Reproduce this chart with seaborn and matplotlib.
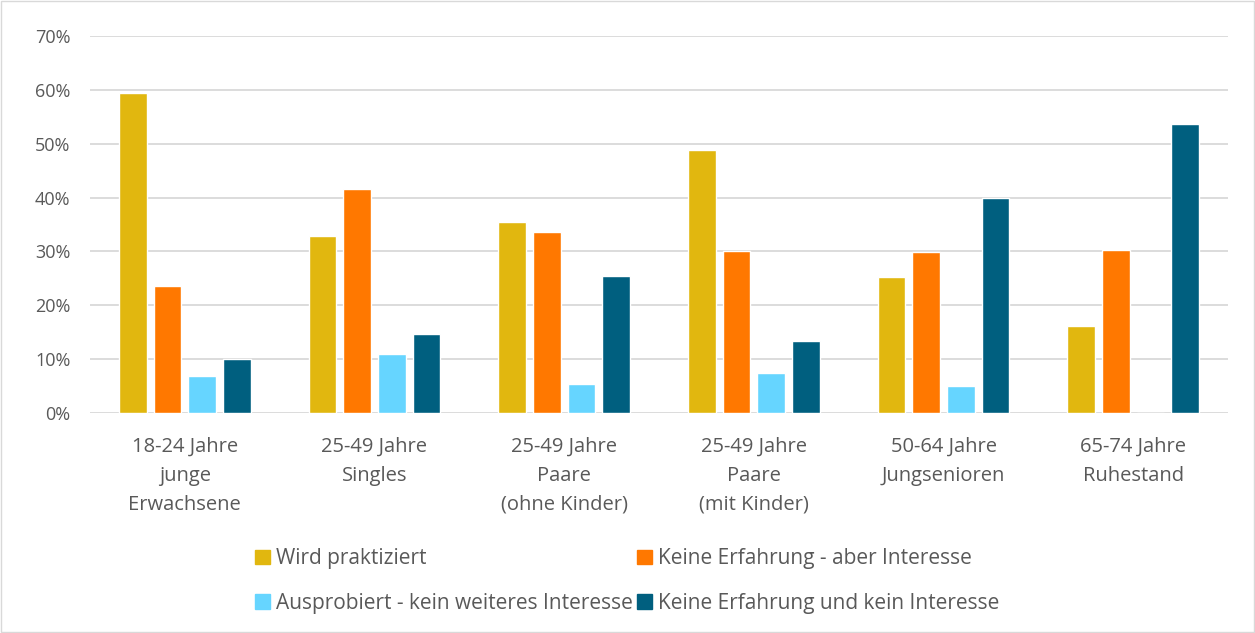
import pandas as pd
import numpy as np
import matplotlib.pyplot as plt
import matplotlib.patches as mpatches
import seaborn as sns

# Werte (Anteil in %)
groups = ["18-24 Jahre\njunge\nErwachsene", "25-49 Jahre\nSingles", "25-49 Jahre\nPaare\n(ohne Kinder)",
          "25-49 Jahre\nPaare\n(mit Kinder)", "50-64 Jahre\nJungsenioren", "65-74 Jahre\nRuhestand"]
series = ["Wird praktiziert", "Keine Erfahrung - aber Interesse",
          "Ausprobiert - kein weiteres Interesse", "Keine Erfahrung und kein Interesse"]
praktiziert = [59.5, 32.8, 35.4, 48.9, 25.2, 16.1]
aber_interesse = [23.5, 41.6, 33.6, 30.0, 29.8, 30.2]
ausprobiert = [6.8, 10.9, 5.3, 7.5, 5.0, 0.0]
kein_interesse = [10.1, 14.6, 25.5, 13.3, 40.0, 53.7]
colors = ["#E1B70F", "#FF7800", "#66D5FF", "#005F7F"]

df = pd.DataFrame({"Gruppe": groups * 4,
                   "Antwort": [s for s in series for _ in groups],
                   "Wert": praktiziert + aber_interesse + ausprobiert + kein_interesse})

sns.set_style("white")
plt.rcParams["font.family"] = ["Open Sans", "DejaVu Sans"]
text_col = "#595959"

fig = plt.figure(figsize=(12.55, 6.33), dpi=100)
ax = fig.add_axes([0.0717, 0.3476, 0.9068, 0.5955])

sns.barplot(data=df, x="Gruppe", y="Wert", hue="Antwort", palette=colors,
            width=0.73, gap=0.2, ax=ax, legend=False, saturation=1)

ax.set_ylim(0, 70)
ax.set_yticks(range(0, 71, 10))
ax.set_yticklabels([f"{v}%" for v in range(0, 71, 10)])
ax.yaxis.grid(True, color="#D9D9D9", linewidth=1.3)
ax.set_axisbelow(True)
for s in ax.spines.values():
    s.set_visible(False)
ax.set_xlabel("")
ax.set_ylabel("")
ax.tick_params(axis="y", length=0, pad=14, labelsize=13, labelcolor=text_col)
ax.tick_params(axis="x", length=0, pad=17, labelsize=14.5, labelcolor=text_col)
for lbl in ax.get_xticklabels():
    lbl.set_linespacing(1.6)
ax.set_xlim(-0.5, 5.5)

# Legende zeilenweise wie im Original
handles = [mpatches.Patch(color=c, label=s) for c, s in zip(colors, series)]
order = [0, 2, 1, 3]
fig.legend(handles=[handles[i] for i in order], ncol=2, loc="center", bbox_to_anchor=(0.5, 0.082),
           frameon=False, fontsize=15, labelcolor=text_col, handlelength=0.7,
           handleheight=0.7, handletextpad=0.3, columnspacing=0.2, labelspacing=1.15)

fig.add_artist(mpatches.Rectangle((0.001, 0.001), 0.998, 0.997, transform=fig.transFigure,
                                  fill=False, edgecolor="#D9D9D9", linewidth=1))

fig.savefig("out.png", dpi=100)
